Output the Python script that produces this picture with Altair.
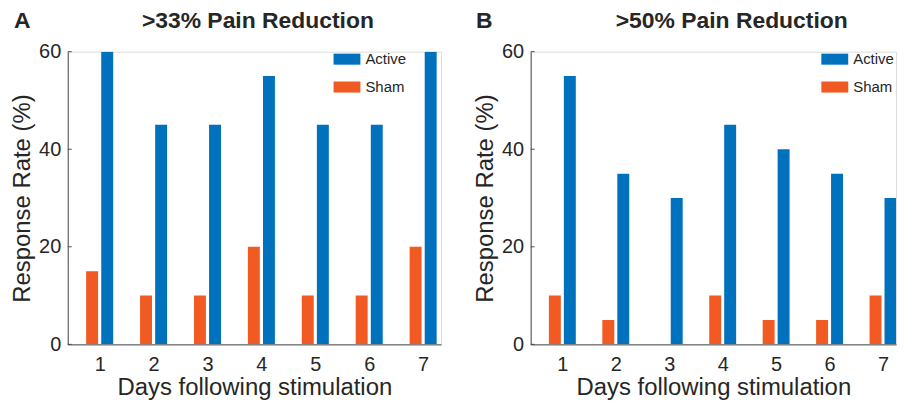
import altair as alt
import pandas as pd

days = [1, 2, 3, 4, 5, 6, 7]
groups = ["Active", "Sham"]
active_33 = [60, 45, 45, 55, 45, 45, 60]
sham_33 = [15, 10, 10, 20, 10, 10, 20]
active_50 = [55, 35, 30, 45, 40, 35, 30]
sham_50 = [10, 5, 0, 10, 5, 5, 10]
y_ticks = [0, 20, 40, 60]
panel_letters = ["A", "B"]
panel_titles = [">33% Pain Reduction", ">50% Pain Reduction"]

BLUE = "#0072BD"
ORANGE = "#F15A22"
AXIS = "#4D4D4D"
TEXT = "#262626"
FONT = "Liberation Sans"
H = 294


def make_df(active, sham):
    rows = []
    for d, a, s in zip(days, active, sham):
        rows.append({"day": d, "group": "Active", "value": a})
        rows.append({"day": d, "group": "Sham", "value": s})
    return pd.DataFrame(rows)


def panel(active, sham, letter, title, width, x_max, legend_x, title_x, letter_x):
    df = make_df(active, sham)
    xscale = alt.Scale(domain=[0.5, x_max], nice=False, zero=False)
    yscale = alt.Scale(domain=[0, 60], nice=False)
    bars = alt.Chart(df).transform_calculate(
        pos="datum.group == 'Active' ? datum.day + 0.14 : datum.day - 0.14"
    ).mark_bar(size=12, clip=True).encode(
        x=alt.X("pos:Q", scale=xscale,
                axis=alt.Axis(values=days, title="Days following stimulation",
                              labelFontSize=20, tickSize=0, labelPadding=10,
                              titleFontSize=24, titleFontWeight="normal",
                              titlePadding=1, labelFont=FONT, titleFont=FONT,
                              domainColor=AXIS, labelColor=TEXT, titleColor=TEXT,
                              grid=False, labelFlush=False)),
        y=alt.Y("value:Q", scale=yscale,
                axis=alt.Axis(values=y_ticks, title="Response Rate (%)",
                              labelFontSize=20, tickSize=0, labelPadding=7,
                              titleFontSize=24, titleFontWeight="normal",
                              titlePadding=4, labelFont=FONT, titleFont=FONT,
                              domainColor=AXIS, labelColor=TEXT, titleColor=TEXT,
                              grid=False)),
        color=alt.Color("group:N",
                        scale=alt.Scale(domain=groups, range=[BLUE, ORANGE]),
                        legend=alt.Legend(title=None, orient="none",
                                          legendX=legend_x, legendY=-6,
                                          symbolType="M-1,-0.41H1V0.41H-1Z",
                                          symbolSize=729, symbolStrokeWidth=0,
                                          labelFontSize=15, labelFont=FONT,
                                          labelColor=TEXT, labelOffset=5,
                                          rowPadding=6, padding=0)),
    )
    tick_df = pd.DataFrame({"v": y_ticks})
    ticks = alt.Chart(tick_df).mark_rule(color=AXIS, strokeWidth=1).encode(
        y=alt.Y("v:Q", scale=yscale),
        x=alt.value(0), x2=alt.value(4),
    )
    lab_df = pd.DataFrame({"letter": [letter], "title": [title]})
    letter_txt = alt.Chart(lab_df).mark_text(
        font=FONT, fontSize=23, fontWeight="bold", color=TEXT,
        align="left", baseline="alphabetic"
    ).encode(text="letter:N", x=alt.value(letter_x), y=alt.value(-24))
    title_txt = alt.Chart(lab_df).mark_text(
        font=FONT, fontSize=23, fontWeight="bold", color=TEXT,
        align="center", baseline="alphabetic"
    ).encode(text="title:N", x=alt.value(title_x), y=alt.value(-24))
    return alt.layer(bars, ticks, letter_txt, title_txt).properties(
        width=width, height=H)


pa = panel(active_33, sham_33, "A", panel_titles[0], 375, 7.24, 267, 191, -54)
pb = panel(active_50, sham_50, "B", panel_titles[1], 367, 7.15, 292, 202, -55)

chart = alt.hconcat(pa, pb, spacing=31).resolve_legend(
    color="independent"
).properties(
    padding={"left": 2, "top": 0, "right": 0, "bottom": 0}
).configure_view(stroke=None).configure(background="white")

chart.save("out.html", embed_options={"renderer": "svg", "actions": False})
